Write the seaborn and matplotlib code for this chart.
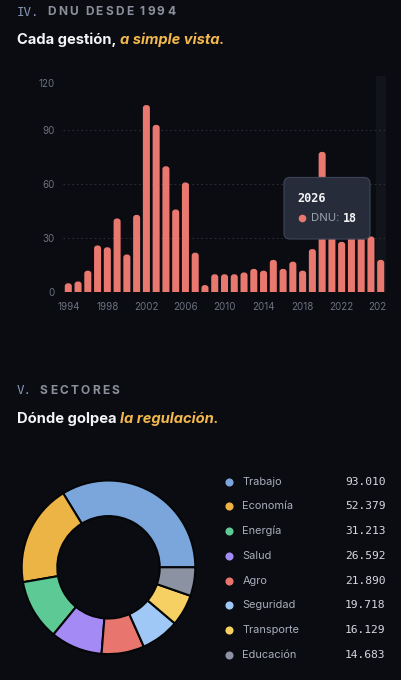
import matplotlib
matplotlib.use("Agg")
import matplotlib.pyplot as plt
import matplotlib.transforms as mtransforms
from matplotlib.patches import FancyBboxPatch
import seaborn as sns

# --- data -------------------------------------------------------------
years = list(range(1994, 2027))
dnu = [5, 6, 12, 26, 25, 41, 21, 43, 104, 93, 70, 46, 61, 22, 4, 10,
       10, 10, 11, 13, 12, 18, 13, 17, 12, 24, 78, 40, 28, 35, 44, 31, 18]
y_ticks = [0, 30, 60, 90, 120]

sectors = ["Trabajo", "Economía", "Energía", "Salud", "Agro",
           "Seguridad", "Transporte", "Educación"]
sector_values = [93.010, 52.379, 31.213, 26.592, 21.890, 19.718, 16.129, 14.683]
sector_labels = ["93.010", "52.379", "31.213", "26.592", "21.890",
                 "19.718", "16.129", "14.683"]
sector_colors = ["#7aa6dc", "#ecb445", "#5dc994", "#a48af4", "#e8756e",
                 "#9fc8f7", "#f7d063", "#8b92a1"]

# --- style ------------------------------------------------------------
W, H = 402, 680
BG = "#0b0c12"
BAR = "#e9786f"
GRID = "#2a2e39"
TICK = "#6b7280"
WHITE = "#f3f4f6"
GOLD = "#f2b84b"
MONO = "DejaVu Sans Mono"

sns.set_theme(style="dark", rc={"axes.facecolor": BG, "figure.facecolor": BG})
plt.rcParams["font.family"] = ["Inter", "DejaVu Sans"]

fig = plt.figure(figsize=(W / 100, H / 100), dpi=100)
renderer = fig.canvas.get_renderer()


def box(left, top, right, bottom):
    return [left / W, 1 - bottom / H, (right - left) / W, (bottom - top) / H]


# --- bar chart --------------------------------------------------------
ax = fig.add_axes(box(63.4, 76.3, 385.6, 292.3))
ax.axvspan(len(years) - 1.5, len(years) - 0.5, color="#11141b", zorder=0, lw=0)
sns.barplot(x=years, y=dnu, color=BAR, saturation=1, width=0.72, ax=ax, zorder=2)
ax.set_ylim(0, 120)
ax.set_xlim(-0.5, len(years) - 0.5)

# rounded tops
asp = (120 / 216.0) / (len(years) / 322.2)
for bar in list(ax.patches):
    if not isinstance(bar, matplotlib.patches.Rectangle) or bar.get_height() <= 0:
        continue
    if bar.get_width() > 0.9:
        continue
    x0, w, h = bar.get_x(), bar.get_width(), bar.get_height()
    rb = FancyBboxPatch((x0, -6), w, h + 6,
                        boxstyle="round,pad=0,rounding_size=0.3",
                        mutation_aspect=asp, fc=BAR, ec="none", zorder=2)
    ax.add_patch(rb)
    bar.remove()

for v in y_ticks[1:-1]:
    ax.axhline(v, color=GRID, lw=0.8, ls=(0, (1.5, 2.5)), zorder=1)
ax.grid(False)
for s in ax.spines.values():
    s.set_visible(False)
ax.set_yticks(y_ticks)
ax.set_yticklabels([str(v) for v in y_ticks])
ax.set_xticks(range(0, len(years), 4))
ax.set_xticklabels([str(y) for y in years[::4]])
ax.tick_params(axis="both", length=0, colors=TICK, labelsize=7)
ax.tick_params(axis="y", pad=6)
ax.tick_params(axis="x", pad=7)
ax.set_xlabel("")
ax.set_ylabel("")
# top label sits a little lower, like the reference
top_lab = ax.get_yticklabels()[-1]
top_lab.set_transform(top_lab.get_transform() +
                      mtransforms.ScaledTranslation(0, -7 / 100, fig.dpi_scale_trans))
clip = mtransforms.TransformedBbox(mtransforms.Bbox([[0, 0], [386 / W, 1]]), fig.transFigure)
for lab in ax.get_xticklabels():
    lab.set_clip_box(clip)
    lab.set_clip_on(True)

# --- donut ------------------------------------------------------------
cx, cy, r = 108.5, 567.3, 86.8
ax2 = fig.add_axes(box(cx - r, cy - r, cx + r, cy + r))
ax2.pie(sector_values, colors=sector_colors, startangle=0, counterclock=True,
        radius=1, wedgeprops=dict(width=0.41, edgecolor="#050608", linewidth=1.5))
ax2.set_xlim(-1, 1)
ax2.set_ylim(-1, 1)
ax2.set_aspect("equal")
ax2.axis("off")

# --- overlay in pixel coordinates --------------------------------------
ov = fig.add_axes([0, 0, 1, 1])
ov.set_xlim(0, W)
ov.set_ylim(H, 0)
ov.axis("off")
ov.patch.set_alpha(0)


def run(x, y, parts, tracking=0.0):
    """Draw text parts one after another starting at x (pixels)."""
    for s, kw in parts:
        if tracking:
            for ch in s:
                t = ov.text(x, y, ch, va="center", ha="left", **kw)
                bb = t.get_window_extent(renderer)
                x = bb.x1 + tracking if ch != " " else x + 4.5
        else:
            t = ov.text(x, y, s, va="center", ha="left", **kw)
            bb = t.get_window_extent(renderer)
            x = bb.x1
    return x


def header(y, num, word, title_a, title_b):
    x = run(17, y, [(num, dict(family=MONO, fontsize=9, color="#8496b4"))])
    run(x + 8, y, [(word, dict(fontsize=8.6, weight="bold", color="#8b909c"))], tracking=2.2)
    x = run(17, y + 28, [(title_a, dict(fontsize=10.6, weight="bold", color=WHITE))])
    run(x + 3.2, y + 28, [(title_b, dict(fontsize=10.6, weight="bold", style="italic", color=GOLD))])


header(12, "IV.", "DNU DESDE 1994", "Cada gestión,", "a simple vista.")
header(390.5, "V.", "SECTORES", "Dónde golpea", "la regulación.")

# tooltip for the last year
tip = FancyBboxPatch((284, 177.5), 86, 61.5, boxstyle="round,pad=0,rounding_size=6",
                     fc="#272c3a", ec="#3a4253", lw=0.9, zorder=5)
ov.add_patch(tip)
ov.text(297, 198.5, str(years[-1]), family=MONO, weight="bold", fontsize=8.6,
        color=WHITE, va="center", ha="left", zorder=6)
ov.scatter([301.7], [218.3], s=30, color=BAR, zorder=6, lw=0)
t = ov.text(311.5, 218.3, "DNU:", fontsize=8.2, color="#9ca3af", va="center", ha="left", zorder=6)
ov.text(t.get_window_extent(renderer).x1 + 3.5, 218.3, str(dnu[-1]), family=MONO, weight="bold",
        fontsize=8.4, color=WHITE, va="center", ha="left", zorder=6)

# legend
for i, (name, lab, col) in enumerate(zip(sectors, sector_labels, sector_colors)):
    yy = 481.7 + i * 24.72
    ov.scatter([229.5], [yy], s=34, color=col, lw=0, zorder=4)
    ov.text(242.5, yy, name, fontsize=7.9, color="#a8aebb", va="center", ha="left")
    ov.text(385.5, yy, lab, family=MONO, fontsize=8.1, color="#d6d9df", va="center", ha="right")

fig.savefig("out.png", dpi=100, facecolor=BG)
